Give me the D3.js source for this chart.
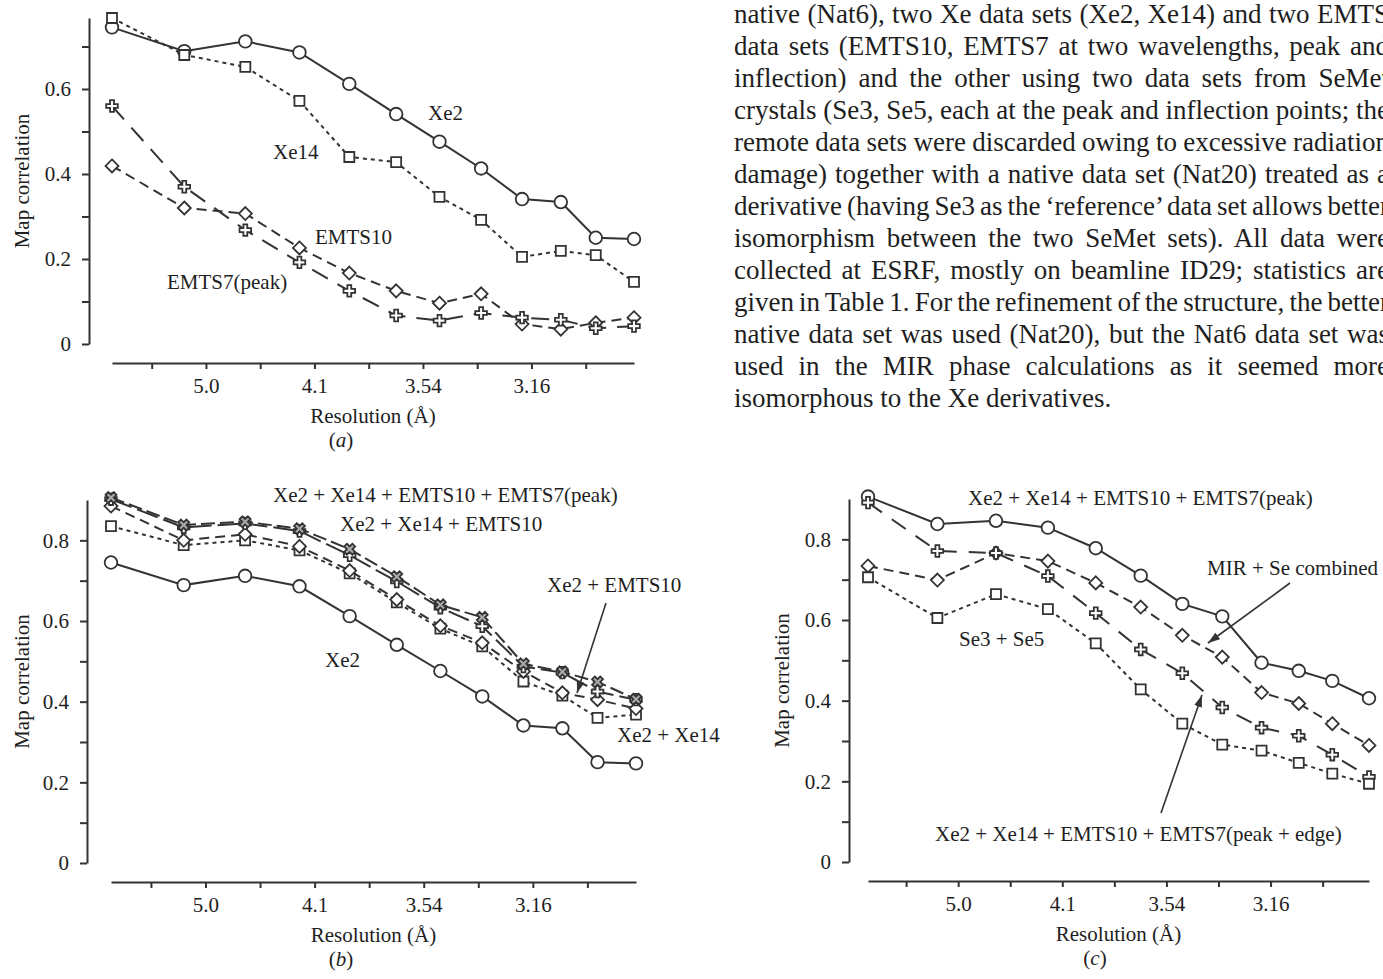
<!DOCTYPE html>
<html>
<head>
<meta charset="utf-8">
<script src="https://cdn.jsdelivr.net/npm/d3@7"></script>
<style>
body { margin: 0; background: #fff; }
svg { display: block; }
text { font-family: "Liberation Serif", "Times New Roman", serif; fill: #1e1e1e; }
</style>
</head>
<body>
<script>
var W = 1383, H = 979;

// resolution of each shell (Å); the x axis is linear in 1/d²
var shells = [6.64, 5.27, 4.60, 4.18, 3.88, 3.65, 3.47, 3.32, 3.19, 3.08, 2.99, 2.90];
var xTicks = [0.03, 0.04, 0.05, 0.06, 0.07, 0.08, 0.09, 0.10, 0.11];
var xTickLabels = ["", "5.0", "", "4.1", "", "3.54", "", "3.16", ""];
var yTicksA = [0, 0.1, 0.2, 0.3, 0.4, 0.5, 0.6, 0.7];
var yTicksBC = [0, 0.1, 0.2, 0.3, 0.4, 0.5, 0.6, 0.7, 0.8];
var yTickLabels = ["0", "", "0.2", "", "0.4", "", "0.6", "", "0.8"];

// (a) single derivatives
var xe2 = [0.745, 0.689, 0.712, 0.686, 0.612, 0.541, 0.476, 0.413, 0.341, 0.334, 0.250, 0.247];
var xe14 = [0.767, 0.680, 0.652, 0.572, 0.440, 0.428, 0.346, 0.292, 0.205, 0.219, 0.209, 0.146];
var emts10 = [0.419, 0.320, 0.307, 0.226, 0.167, 0.125, 0.096, 0.118, 0.047, 0.035, 0.050, 0.062];
var emts7Peak = [0.560, 0.370, 0.268, 0.192, 0.125, 0.067, 0.055, 0.073, 0.062, 0.057, 0.037, 0.042];

// (b) combinations
var xe2Xe14 = [0.835, 0.788, 0.800, 0.775, 0.718, 0.646, 0.581, 0.537, 0.450, 0.415, 0.360, 0.368];
var xe2Emts10 = [0.885, 0.800, 0.815, 0.785, 0.725, 0.653, 0.588, 0.546, 0.475, 0.422, 0.405, 0.383];
var xe2Xe14Emts10 = [0.902, 0.832, 0.842, 0.823, 0.763, 0.698, 0.633, 0.587, 0.487, 0.472, 0.425, 0.405];
var allPeak = [0.906, 0.838, 0.846, 0.829, 0.778, 0.710, 0.640, 0.609, 0.494, 0.474, 0.449, 0.406];

// (c)
var mirSe = [0.734, 0.699, 0.766, 0.746, 0.692, 0.632, 0.562, 0.508, 0.420, 0.393, 0.343, 0.289];
var allPeakEdge = [0.891, 0.771, 0.766, 0.709, 0.617, 0.527, 0.468, 0.383, 0.333, 0.313, 0.266, 0.211];
var se3Se5 = [0.706, 0.605, 0.664, 0.627, 0.542, 0.428, 0.343, 0.291, 0.276, 0.246, 0.219, 0.194];

var paragraph = [
  "native (Nat6), two Xe data sets (Xe2, Xe14) and two EMTS",
  "data sets (EMTS10, EMTS7 at two wavelengths, peak and",
  "inflection) and the other using two data sets from SeMet",
  "crystals (Se3, Se5, each at the peak and inflection points; the",
  "remote data sets were discarded owing to excessive radiation",
  "damage) together with a native data set (Nat20) treated as a",
  "derivative (having Se3 as the \u2018reference\u2019 data set allows better",
  "isomorphism between the two SeMet sets). All data were",
  "collected at ESRF, mostly on beamline ID29; statistics are",
  "given in Table 1. For the refinement of the structure, the better",
  "native data set was used (Nat20), but the Nat6 data set was",
  "used in the MIR phase calculations as it seemed more",
  "isomorphous to the Xe derivatives."
];

var ink = "#333";

var svg = d3.select("body").append("svg")
  .attr("width", W)
  .attr("height", H);

var defs = svg.append("defs");
defs.append("marker")
  .attr("id", "arrow")
  .attr("viewBox", "0 0 12 8")
  .attr("refX", 12).attr("refY", 4)
  .attr("markerWidth", 12).attr("markerHeight", 8)
  .attr("markerUnits", "userSpaceOnUse")
  .attr("orient", "auto")
  .append("path")
  .attr("d", "M0,0L12,4L0,8Z")
  .attr("fill", ink);

function markerPath(type) {
  if (type === "circle") return d3.symbol(d3.symbolCircle, 125)();
  if (type === "square") return d3.symbol(d3.symbolSquare, 100)();
  if (type === "diamond") return "M0,-6.5L6.5,0L0,6.5L-6.5,0Z";
  return d3.symbol(d3.symbolCross, 75)();
}

function drawPanel(p) {
  var g = svg.append("g");
  var x = d3.scaleLinear()
    .domain([1 / (shells[0] * shells[0]), 1 / (shells[shells.length - 1] * shells[shells.length - 1])])
    .range(p.xRange);
  var y = d3.scaleLinear().domain([0, p.yMax]).range([p.y0, p.yTop]);

  var yAxis = g.append("g")
    .attr("transform", "translate(" + p.yAxisX + ",0)")
    .call(d3.axisLeft(y).tickValues(p.yTicks)
      .tickFormat(function(d, i) { return yTickLabels[i]; })
      .tickSize(7).tickPadding(11).tickSizeOuter(0));

  var xAxis = g.append("g")
    .attr("transform", "translate(0," + p.xAxisY + ")")
    .call(d3.axisBottom(x).tickValues(xTicks)
      .tickFormat(function(d, i) { return xTickLabels[i]; })
      .tickSize(6).tickPadding(9).tickSizeOuter(0));

  [yAxis, xAxis].forEach(function(a) {
    a.attr("font-size", 21).style("color", ink);
    a.selectAll("path, line").attr("stroke-width", 2);
  });

  g.append("text")
    .attr("transform", "translate(" + p.yTitleX + "," + ((p.y0 + p.yTop) / 2) + ") rotate(-90)")
    .attr("text-anchor", "middle")
    .attr("dy", "0.35em")
    .attr("font-size", 21)
    .text("Map correlation");

  var xMid = (p.xRange[0] + p.xRange[1]) / 2;
  g.append("text")
    .attr("x", xMid).attr("y", p.xAxisY + 60)
    .attr("text-anchor", "middle")
    .attr("font-size", 21)
    .text("Resolution (\u00c5)");

  var tag = g.append("text")
    .attr("x", p.tagX).attr("y", p.xAxisY + 84)
    .attr("text-anchor", "middle")
    .attr("font-size", 21);
  tag.append("tspan").text("(");
  tag.append("tspan").attr("font-style", "italic").text(p.tag);
  tag.append("tspan").text(")");

  var line = d3.line()
    .x(function(d, i) { return x(1 / (shells[i] * shells[i])); })
    .y(function(d) { return y(d); });

  p.series.forEach(function(s) {
    g.append("path")
      .datum(s.values)
      .attr("d", line)
      .attr("fill", "none")
      .attr("stroke", ink)
      .attr("stroke-width", 2)
      .attr("stroke-dasharray", s.dash);
  });

  p.series.forEach(function(s) {
    g.selectAll(null)
      .data(s.values)
      .enter().append("path")
      .attr("d", markerPath(s.marker))
      .attr("transform", function(d, i) {
        return "translate(" + x(1 / (shells[i] * shells[i])) + "," + y(d) + ")" +
          (s.marker === "xmark" ? " rotate(45)" : "");
      })
      .attr("fill", s.marker === "xmark" ? "#aaa" : "#fff")
      .attr("stroke", ink)
      .attr("stroke-width", 1.8);
  });

  p.labels.forEach(function(l) {
    g.append("text")
      .attr("x", l.x).attr("y", l.y)
      .attr("font-size", 21)
      .text(l.t);
  });

  (p.arrows || []).forEach(function(a) {
    g.append("line")
      .attr("x1", a[0]).attr("y1", a[1])
      .attr("x2", a[2]).attr("y2", a[3])
      .attr("stroke", ink)
      .attr("stroke-width", 1.6)
      .attr("marker-end", "url(#arrow)");
  });
}

drawPanel({
  tag: "a", tagX: 341,
  xRange: [112, 634], yAxisX: 89, yTitleX: 22,
  y0: 344, yTop: 18, yMax: 0.767, xAxisY: 363, yTicks: yTicksA,
  series: [
    { values: xe2, marker: "circle", dash: null },
    { values: xe14, marker: "square", dash: "4,4" },
    { values: emts10, marker: "diamond", dash: "10,6" },
    { values: emts7Peak, marker: "plus", dash: "18,11" }
  ],
  labels: [
    { t: "Xe2", x: 428, y: 120 },
    { t: "Xe14", x: 273, y: 159 },
    { t: "EMTS10", x: 315, y: 244 },
    { t: "EMTS7(peak)", x: 167, y: 289 }
  ]
});

drawPanel({
  tag: "b", tagX: 341,
  xRange: [111, 636], yAxisX: 87, yTitleX: 22,
  y0: 863, yTop: 500, yMax: 0.9, xAxisY: 882, yTicks: yTicksBC,
  series: [
    { values: xe2, marker: "circle", dash: null },
    { values: xe2Xe14, marker: "square", dash: "4,4" },
    { values: xe2Emts10, marker: "diamond", dash: "10,6" },
    { values: xe2Xe14Emts10, marker: "plus", dash: "22,6" },
    { values: allPeak, marker: "xmark", dash: "14,5" }
  ],
  labels: [
    { t: "Xe2 + Xe14 + EMTS10 + EMTS7(peak)", x: 273, y: 502 },
    { t: "Xe2 + Xe14 + EMTS10", x: 340, y: 531 },
    { t: "Xe2 + EMTS10", x: 547, y: 592 },
    { t: "Xe2", x: 325, y: 667 },
    { t: "Xe2 + Xe14", x: 617, y: 742 }
  ],
  arrows: [[606, 603, 577, 693]]
});

drawPanel({
  tag: "c", tagX: 1095,
  xRange: [868, 1369], yAxisX: 849, yTitleX: 782,
  y0: 862, yTop: 499, yMax: 0.9, xAxisY: 881, yTicks: yTicksBC,
  series: [
    { values: allPeak, marker: "circle", dash: null },
    { values: mirSe, marker: "diamond", dash: "10,6" },
    { values: allPeakEdge, marker: "plus", dash: "17,12" },
    { values: se3Se5, marker: "square", dash: "4,4" }
  ],
  labels: [
    { t: "Xe2 + Xe14 + EMTS10 + EMTS7(peak)", x: 968, y: 505 },
    { t: "MIR + Se combined", x: 1207, y: 575 },
    { t: "Se3 + Se5", x: 959, y: 646 },
    { t: "Xe2 + Xe14 + EMTS10 + EMTS7(peak + edge)", x: 935, y: 841 }
  ],
  arrows: [[1290, 583, 1208, 643], [1161, 813, 1202, 695]]
});

// justified paragraph on the right, cut by the page edge
var parLeft = 734, parRight = 1389;
var para = svg.append("g").attr("font-size", 27);
paragraph.forEach(function(t, i) {
  var el = para.append("text")
    .attr("x", parLeft)
    .attr("y", 23 + 32 * i)
    .text(t);
  if (i < paragraph.length - 1) {
    var nat = el.node().getComputedTextLength();
    var gaps = t.split(" ").length - 1;
    el.style("word-spacing", ((parRight - parLeft - nat) / gaps) + "px");
  }
});
</script>
</body>
</html>
